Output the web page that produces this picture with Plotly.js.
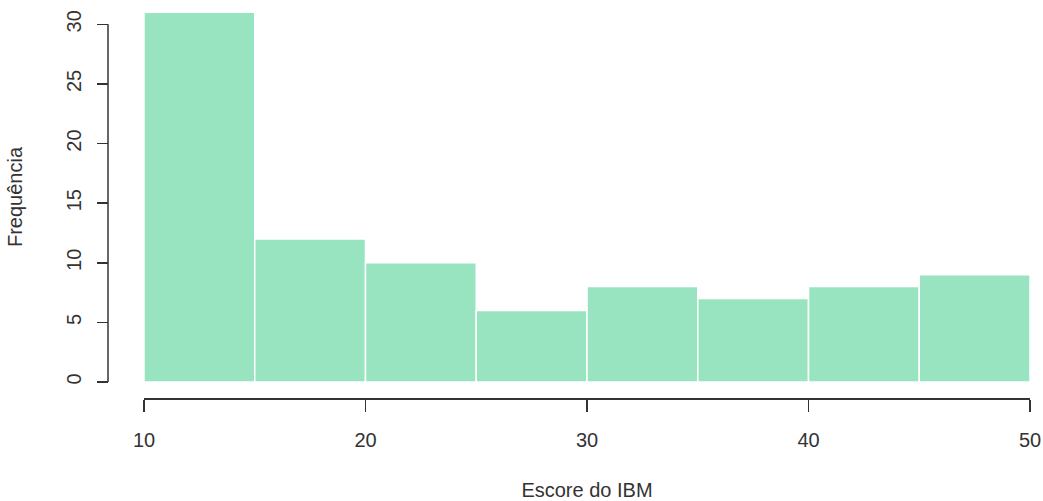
<!DOCTYPE html>
<html>
<head>
<meta charset="utf-8">
<script src="https://cdn.plot.ly/plotly-3.0.1.min.js"></script>
<style>html,body{margin:0;padding:0;background:#fff;}#chart{width:1043px;height:501px;}</style>
</head>
<body>
<div id="chart"></div>
<script>
// Histogram bins (Escore do IBM) and frequencies
const binStarts = [10, 15, 20, 25, 30, 35, 40, 45];
const binWidth = 5;
const frequencies = [31, 12, 10, 6, 8, 7, 8, 9];
const xTickValues = [10, 20, 30, 40, 50];
const yTickValues = [0, 5, 10, 15, 20, 25, 30];

const centers = binStarts.map(s => s + binWidth / 2);

const trace = {
  type: 'bar',
  x: centers,
  y: frequencies,
  width: binStarts.map(() => binWidth),
  marker: { color: 'rgb(152,228,192)', line: { color: '#ffffff', width: 1.5 } },
  hoverinfo: 'x+y'
};

const W = 1043, H = 501;
const mL = 108, mR = 13, mT = 12, mB = 103;
const plotW = W - mL - mR;
const plotH = H - mT - mB;
const yZeroPx = 382;   // pixel of y=0
const xStartPx = 144;  // pixel of x=10
const yBottomDomain = ((H - mB) - yZeroPx) / plotH;
const xLeftDomain = (xStartPx - mL) / plotW;

const font = { family: 'Liberation Sans, Arial, sans-serif', size: 20, color: '#333333' };

const layout = {
  width: W, height: H,
  margin: { l: mL, r: mR, t: mT, b: mB, pad: 0 },
  paper_bgcolor: '#ffffff', plot_bgcolor: '#ffffff',
  showlegend: false,
  font: font,
  bargap: 0,
  xaxis: {
    domain: [xLeftDomain, 1],
    range: [10, 50],
    anchor: 'free', position: 0,
    showgrid: false, zeroline: false,
    showline: true, linecolor: '#333333', linewidth: 1.5,
    ticks: 'outside', ticklen: 12, tickwidth: 1.5, tickcolor: '#333333',
    tickvals: xTickValues, ticktext: xTickValues.map(String),
    ticklabelstandoff: 11,
    tickfont: font,
    title: { text: 'Escore do IBM', font: font, standoff: 37 }
  },
  yaxis: {
    domain: [yBottomDomain, 1],
    range: [0, 31.03],
    anchor: 'free', position: 0,
    showgrid: false, zeroline: false,
    showline: false,
    ticks: 'outside', ticklen: 11, tickwidth: 1.5, tickcolor: '#333333',
    tickvals: yTickValues, ticktext: yTickValues.map(String),
    tickangle: -90,
    ticklabelstandoff: 8,
    tickfont: font,
    title: { text: 'Frequência', font: font, standoff: 34 }
  },
  shapes: [{
    type: 'line', xref: 'paper', yref: 'y',
    x0: 0, x1: 0, y0: yTickValues[0], y1: yTickValues[yTickValues.length - 1],
    line: { color: '#333333', width: 1.5 }
  }]
};

Plotly.newPlot('chart', [trace], layout, { staticPlot: true, displayModeBar: false });
</script>
</body>
</html>
